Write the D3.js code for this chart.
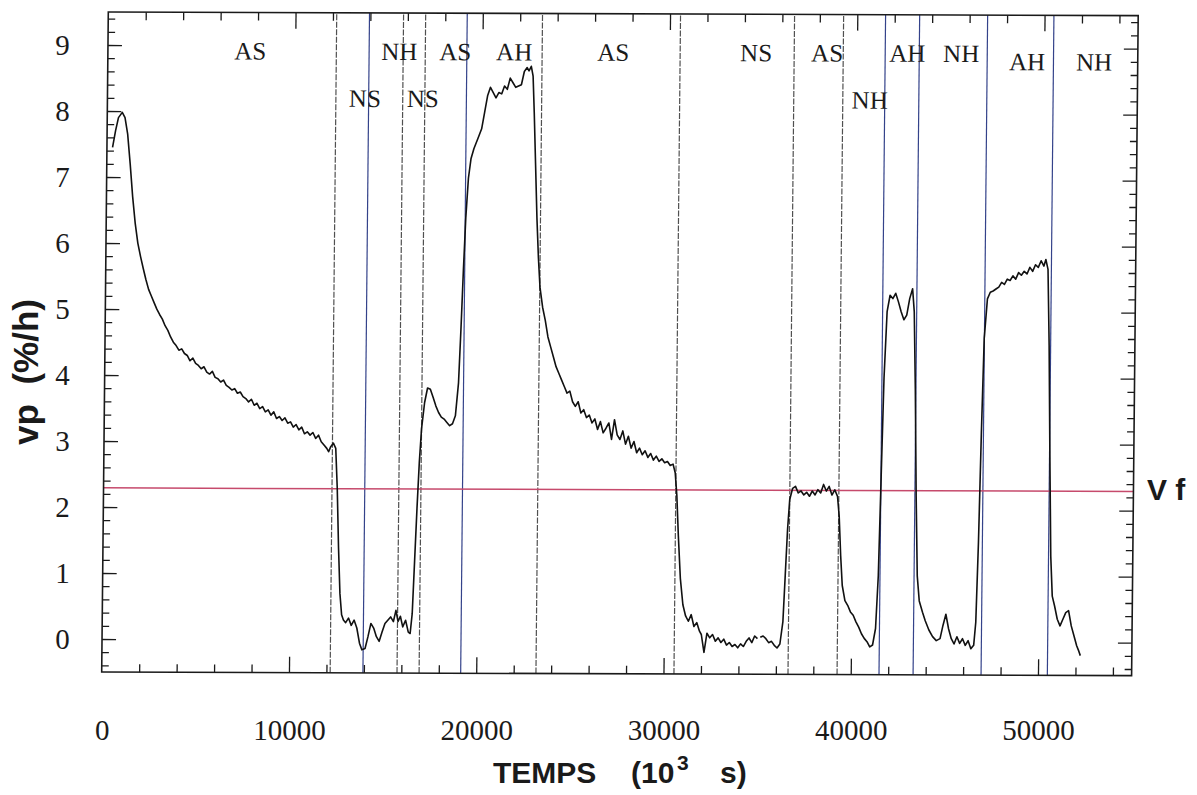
<!DOCTYPE html>
<html><head><meta charset="utf-8">
<script src="https://cdn.jsdelivr.net/npm/d3@7/dist/d3.min.js"></script>
<style>body{margin:0;background:#fff;} svg{display:block;}</style>
</head><body>
<svg id="chart" width="1197" height="795"></svg>
<script>
// ---------- data ----------
const xTickLabels = [0, 10000, 20000, 30000, 40000, 50000];
const yTickLabels = [0, 1, 2, 3, 4, 5, 6, 7, 8, 9];
const vfValue = 2.29;
const phaseBounds = [12200, 13950, 15770, 16950, 19170, 23190, 30560, 36650, 39270, 41510, 43330, 46960, 50500];
const phaseBoundKinds = ['k','b','k','k','b','k','k','k','k','b','b','b','b'];
const phaseNames = ['AS','NS','NH','NS','AS','AH','AS','NS','AS','NH','AH','NH','AH','NH'];
const phaseNameT = [7600, 13750, 15560, 16840, 18550, 21700, 26990, 34620, 38410, 40710, 42690, 45570, 49090, 52670];
const phaseNameRow = [0, 1, 0, 1, 0, 0, 0, 0, 0, 1, 0, 0, 2, 2];
const vpSeries = [
[300,7.45],[450,7.7],[600,7.9],[800,7.98],[950,7.9],[1100,7.65],[1250,7.2],[1400,6.7],[1550,6.3],[1700,6.0],[1850,5.8],[2000,5.62],[2150,5.45],[2300,5.3],[2450,5.2],[2600,5.1],[2750,5.0],[2900,4.92],[3050,4.85],[3200,4.75],[3350,4.68],[3500,4.58],[3650,4.5],[3800,4.45],[3950,4.38],[4100,4.4],[4250,4.33],[4400,4.3],[4550,4.22],[4700,4.26],[4850,4.18],[5000,4.15],[5150,4.1],[5300,4.13],[5450,4.05],[5600,4.02],[5750,4.06],[5900,3.97],[6050,3.95],[6200,3.9],[6350,3.93],[6500,3.85],[6650,3.82],[6800,3.78],[6950,3.8],[7100,3.73],[7250,3.75],[7400,3.68],[7550,3.65],[7700,3.6],[7850,3.64],[8000,3.55],[8150,3.58],[8300,3.5],[8450,3.53],[8600,3.45],[8750,3.48],[8900,3.4],[9050,3.45],[9200,3.35],[9350,3.38],[9500,3.32],[9650,3.36],[9800,3.28],[9950,3.3],[10100,3.22],[10250,3.26],[10400,3.18],[10550,3.22],[10700,3.12],[10850,3.15],[11000,3.1],[11150,3.14],[11300,3.05],[11450,3.1],[11600,3.0],[11750,2.95],[11900,2.9],[12000,2.85],[12100,2.92],[12250,2.98],[12380,2.9],[12480,2.3],[12580,1.4],[12680,0.7],[12780,0.38],[12880,0.3],
[13000,0.26],[13150,0.33],[13300,0.22],[13450,0.3],[13600,0.18],[13750,-0.05],[13880,-0.15],[14050,-0.13],[14200,0.05],[14350,0.25],[14500,0.18],[14650,0.05],[14800,-0.02],[14950,0.12],[15100,0.25],[15250,0.3],[15400,0.35],[15550,0.28],[15680,0.45],[15800,0.28],[15920,0.36],[16050,0.2],[16200,0.3],[16350,0.12],[16450,0.1],[16550,0.4],[16650,1.2],[16750,2.0],[16850,2.7],[16950,3.2],[17100,3.6],[17250,3.82],[17400,3.8],[17550,3.68],[17700,3.55],[17850,3.45],[18000,3.38],[18150,3.35],[18300,3.3],[18450,3.25],[18600,3.28],[18750,3.4],[18900,3.9],[19000,4.7],[19100,5.6],[19200,6.4],[19320,7.0],[19450,7.3],[19600,7.45],[19800,7.6],[20000,7.75],[20150,8.0],[20300,8.25],[20450,8.38],[20600,8.3],[20750,8.22],[20900,8.3],[21050,8.28],[21200,8.4],[21350,8.35],[21500,8.52],[21650,8.45],[21800,8.38],[21950,8.4],[22100,8.42],[22250,8.62],[22400,8.68],[22500,8.63],[22620,8.7],[22720,8.55],[22800,8.0],[22900,7.2],[23000,6.4],[23100,5.8],[23200,5.35],
[23350,5.05],[23500,4.85],[23650,4.6],[23800,4.45],[23950,4.3],[24100,4.15],[24250,4.05],[24400,3.95],[24550,3.85],[24700,3.75],[24850,3.78],[25000,3.62],[25150,3.55],[25300,3.62],[25450,3.45],[25600,3.5],[25750,3.38],[25900,3.42],[26050,3.3],[26200,3.36],[26350,3.2],[26500,3.32],[26650,3.15],[26800,3.22],[26950,3.3],[27100,3.05],[27250,3.35],[27400,3.12],[27550,3.05],[27700,3.18],[27850,2.98],[28000,3.1],[28150,2.92],[28300,3.02],[28450,2.85],[28600,2.92],[28750,2.82],[28900,2.88],[29050,2.78],[29200,2.84],[29350,2.74],[29500,2.8],[29650,2.72],[29800,2.76],[29950,2.7],[30100,2.72],[30250,2.66],[30400,2.68],[30520,2.55],[30620,2.2],[30720,1.6],[30850,0.95],[31000,0.55],[31150,0.38],
[31300,0.3],[31450,0.4],[31600,0.22],[31750,0.28],[31900,0.15],[32000,0.1],[32150,-0.17],[32300,0.12],[32450,0.05],[32600,0.1],[32750,0.0],[32900,0.05],[33050,-0.02],[33200,0.03],[33350,-0.06],[33500,-0.02],[33650,-0.08],[33800,-0.05],[33950,-0.1],[34100,-0.04],[34250,-0.08],[34400,0.0],[34550,0.05],[34700,-0.02],[34850,0.08],[35000,0.04],[35080,null],[35150,0.06],[35300,0.08],[35450,0.04],[35600,-0.02],[35750,0.0],[35900,-0.06],[36050,-0.1],[36200,-0.04],[36350,0.3],[36450,1.0],[36550,1.7],[36650,2.15],[36800,2.32],
[36950,2.35],[37100,2.25],[37250,2.28],[37400,2.22],[37550,2.26],[37700,2.2],[37850,2.28],[38000,2.22],[38150,2.3],[38300,2.25],[38450,2.38],[38600,2.28],[38750,2.35],[38900,2.22],[39050,2.3],[39200,2.2],[39300,1.9],[39400,1.3],[39500,0.85],[39650,0.62],
[39800,0.55],[39950,0.45],[40100,0.4],[40250,0.3],[40400,0.22],[40550,0.12],[40700,0.05],[40850,0.0],[41000,-0.08],[41150,-0.05],[41300,0.2],[41420,1.0],[41520,2.5],[41620,4.0],[41750,5.0],[41900,5.25],
[42050,5.2],[42200,5.28],[42350,5.15],[42500,5.0],[42650,4.88],[42800,4.95],[42950,5.2],[43100,5.35],[43200,5.0],[43300,3.8],[43400,2.2],[43500,1.0],[43620,0.62],
[43800,0.45],[43950,0.32],[44150,0.18],[44350,0.08],[44550,0.02],[44750,0.05],[44900,0.25],[45050,0.42],[45200,0.2],[45350,0.05],[45500,-0.03],[45650,0.08],[45800,-0.02],[45950,0.05],[46100,-0.05],[46250,0.02],[46400,-0.1],[46550,-0.05],[46650,0.3],[46750,1.5],[46850,3.2],[46950,4.6],[47100,5.2],[47250,5.3],
[47400,5.32],[47550,5.35],[47700,5.38],[47850,5.45],[48000,5.42],[48150,5.5],[48300,5.48],[48450,5.55],[48600,5.5],[48750,5.6],[48900,5.56],[49050,5.62],[49200,5.58],[49350,5.68],[49500,5.62],[49650,5.72],[49800,5.68],[49950,5.78],[50100,5.7],[50200,5.8],[50320,5.65],[50420,4.5],[50520,2.8],[50620,1.3],[50720,0.7],[50850,0.55],
[51000,0.35],[51150,0.25],[51300,0.35],[51450,0.45],[51600,0.48],[51750,0.25],[51900,0.1],[52050,-0.05],[52150,-0.12],[52250,-0.2]
];

// ---------- drawing ----------
const svg = d3.select('#chart');
const x = d3.scaleLinear().domain([0, 55000]).range([101.7, 1131.6]);
const y = d3.scaleLinear().domain([-0.5, 9.5]).range([672, 12]);
const X0 = x.range()[0], X1 = x.range()[1], Y0 = y.range()[0], Y1 = y.range()[1];
const serif = "'Liberation Serif','Times New Roman',serif";
const sans = "'Liberation Sans',Arial,sans-serif";
const ink = '#1a1a1a';

// the scanned original is slightly sheared: top edge sits a few px right of / below the bottom edge
const sx = 0.0100, sy = 0.0035;
const plot = svg.append('g')
  .attr('transform', `matrix(1,${sy},${-sx},1,${sx * Y0},${-sy * X0})`);

// phase boundary lines
plot.append('g').selectAll('line').data(phaseBounds).join('line')
  .attr('x1', d => x(d)).attr('x2', d => x(d))
  .attr('y1', Y0).attr('y2', Y1)
  .attr('stroke', (d, i) => phaseBoundKinds[i] === 'b' ? '#34428a' : '#505050')
  .attr('stroke-dasharray', (d, i) => phaseBoundKinds[i] === 'b' ? null : '6,1.5')
  .attr('stroke-width', 1.2);

// Vf line
plot.append('line')
  .attr('x1', x(0)).attr('x2', x(55000))
  .attr('y1', y(vfValue)).attr('y2', y(vfValue))
  .attr('stroke', '#c64a6c').attr('stroke-width', 1.5);

const xMinor = d3.range(2000, 55000, 2000).filter(v => v % 10000 !== 0);
const xMajor = d3.range(10000, 55000, 10000);
const yMinor = d3.range(-4, 95, 2).map(v => v / 10).filter(v => Math.abs(v - Math.round(v)) > 1e-6);

function clean(g) { g.select('.domain').remove(); g.selectAll('line').attr('stroke', ink).attr('stroke-width', 1.3); }

// bottom axis ticks
plot.append('g').attr('transform', `translate(0,${Y0})`)
  .call(d3.axisBottom(x).tickValues(xMinor).tickSize(-8).tickFormat(''))
  .call(clean);
plot.append('g').attr('transform', `translate(0,${Y0})`)
  .call(d3.axisBottom(x).tickValues(xMajor).tickSize(-16).tickFormat(''))
  .call(clean);
// top axis
plot.append('g').attr('transform', `translate(0,${Y1})`)
  .call(d3.axisTop(x).tickValues(xMinor).tickSize(-8).tickFormat(''))
  .call(clean);
plot.append('g').attr('transform', `translate(0,${Y1})`)
  .call(d3.axisTop(x).tickValues(xMajor).tickSize(-16).tickFormat(''))
  .call(clean);
// left axis ticks
plot.append('g').attr('transform', `translate(${X0},0)`)
  .call(d3.axisLeft(y).tickValues(yMinor).tickSize(-7).tickFormat(''))
  .call(clean);
plot.append('g').attr('transform', `translate(${X0},0)`)
  .call(d3.axisLeft(y).tickValues(yTickLabels).tickSize(-14).tickFormat(''))
  .call(clean);
// right axis
plot.append('g').attr('transform', `translate(${X1},0)`)
  .call(d3.axisRight(y).tickValues(yMinor).tickSize(-7).tickFormat(''))
  .call(clean);
plot.append('g').attr('transform', `translate(${X1},0)`)
  .call(d3.axisRight(y).tickValues(yTickLabels).tickSize(-14).tickFormat(''))
  .call(clean);

// frame
plot.append('rect').attr('x', X0).attr('y', Y1).attr('width', X1 - X0).attr('height', Y0 - Y1)
  .attr('fill', 'none').attr('stroke', ink).attr('stroke-width', 1.6);

// curve
const line = d3.line().defined(d => d[1] !== null).x(d => x(d[0])).y(d => y(d[1]));
plot.append('path').datum(vpSeries).attr('d', line)
  .attr('fill', 'none').attr('stroke', '#111').attr('stroke-width', 1.6).attr('stroke-linejoin', 'round');

// phase labels
const rowBase = [59, 106, 67];
plot.append('g').selectAll('text').data(phaseNames).join('text')
  .attr('x', (d, i) => x(phaseNameT[i]))
  .attr('y', (d, i) => rowBase[phaseNameRow[i]])
  .attr('text-anchor', 'middle')
  .attr('font-family', serif).attr('font-size', 25).attr('fill', ink)
  .text(d => d);

// tick labels (unsheared)
svg.append('g').attr('transform', `translate(0,${Y0})`)
  .call(d3.axisBottom(x).tickValues(xTickLabels).tickSize(0).tickFormat(d3.format('d')))
  .call(g => g.select('.domain').remove())
  .call(g => g.selectAll('text').attr('y', 68).attr('dy', 0)
     .attr('font-family', serif).attr('font-size', 29).attr('fill', ink));
svg.append('g').attr('transform', `translate(${X0},0)`)
  .call(d3.axisLeft(y).tickValues(yTickLabels).tickSize(0).tickPadding(32).tickFormat(d3.format('d')))
  .call(g => g.select('.domain').remove())
  .call(g => g.selectAll('text').attr('font-family', serif).attr('font-size', 29).attr('fill', ink));

// Vf label
svg.append('text').attr('x', 1147).attr('y', 500)
  .attr('font-family', sans).attr('font-weight', 'bold').attr('font-size', 30).attr('fill', ink)
  .attr('xml:space', 'preserve').text('V f');

// x title
const xt = svg.append('text').attr('y', 783)
  .attr('font-family', sans).attr('font-weight', 'bold').attr('font-size', 30).attr('fill', ink);
xt.append('tspan').attr('x', 493).text('TEMPS');
xt.append('tspan').attr('x', 631).text('(10');
xt.append('tspan').attr('x', 677).attr('dy', -13).attr('font-size', 21).text('3');
xt.append('tspan').attr('x', 720).attr('dy', 13).text('s)');

// y title
svg.append('text').attr('transform', 'translate(38,372) rotate(-90)').attr('text-anchor', 'middle')
  .attr('font-family', sans).attr('font-weight', 'bold').attr('font-size', 35).attr('fill', ink)
  .attr('xml:space', 'preserve').text('vp  (%/h)');
</script>
</body></html>
